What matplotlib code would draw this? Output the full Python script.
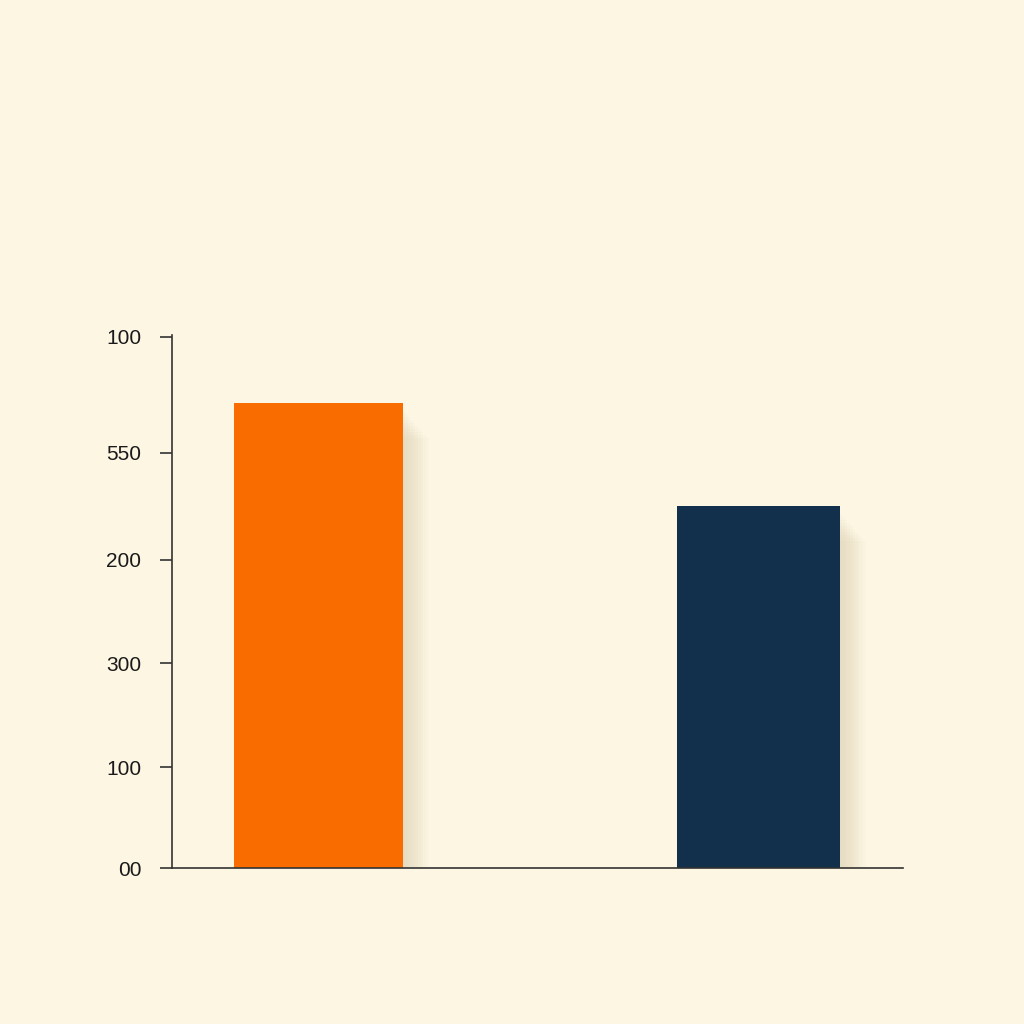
import matplotlib
matplotlib.use("Agg")
import matplotlib.pyplot as plt

# dados
categorias = ["A", "B"]
valores = [465, 362]
cores = ["#F96C00", "#12304C"]
ticks_pos = [0, 101, 205, 308, 415, 531]
ticks_txt = ["00", "100", "300", "200", "550", "100"]

fundo = "#FDF6E3"
plt.rcParams["font.family"] = ["Liberation Sans", "DejaVu Sans"]

fig = plt.figure(figsize=(10.24, 10.24), dpi=100, facecolor=fundo)
ax = fig.add_axes([0.168, 0.1523, 0.714, 0.5206])
ax.set_facecolor(fundo)

x = list(range(len(categorias)))
largura = [0.384, 0.37]

# sombra suave a direita das barras (camadas translucidas)
for k in range(10):
    dx = 0.004 + k * 0.006
    ax.bar([xi + dx for xi in x], [v - 8 - k * 3 for v in valores], width=largura,
           bottom=0, color="#C8B890", alpha=0.045, linewidth=0, zorder=1)

ax.bar(x, valores, width=largura, color=cores, linewidth=0, zorder=2)

ax.set_xlim(-0.333, 1.328)
ax.set_ylim(0, 533)
ax.set_yticks(ticks_pos)
ax.set_yticklabels(ticks_txt, fontsize=15, color="#1a1a1a")
ax.set_xticks([])
ax.tick_params(axis="y", length=9, width=1.2, color="#333333", pad=13)

for s in ["top", "right"]:
    ax.spines[s].set_visible(False)
ax.spines["left"].set_color("#333333")
ax.spines["bottom"].set_color("#333333")
ax.spines["left"].set_linewidth(1.2)
ax.spines["bottom"].set_linewidth(1.2)

fig.savefig("out.png", dpi=100, facecolor=fundo)
